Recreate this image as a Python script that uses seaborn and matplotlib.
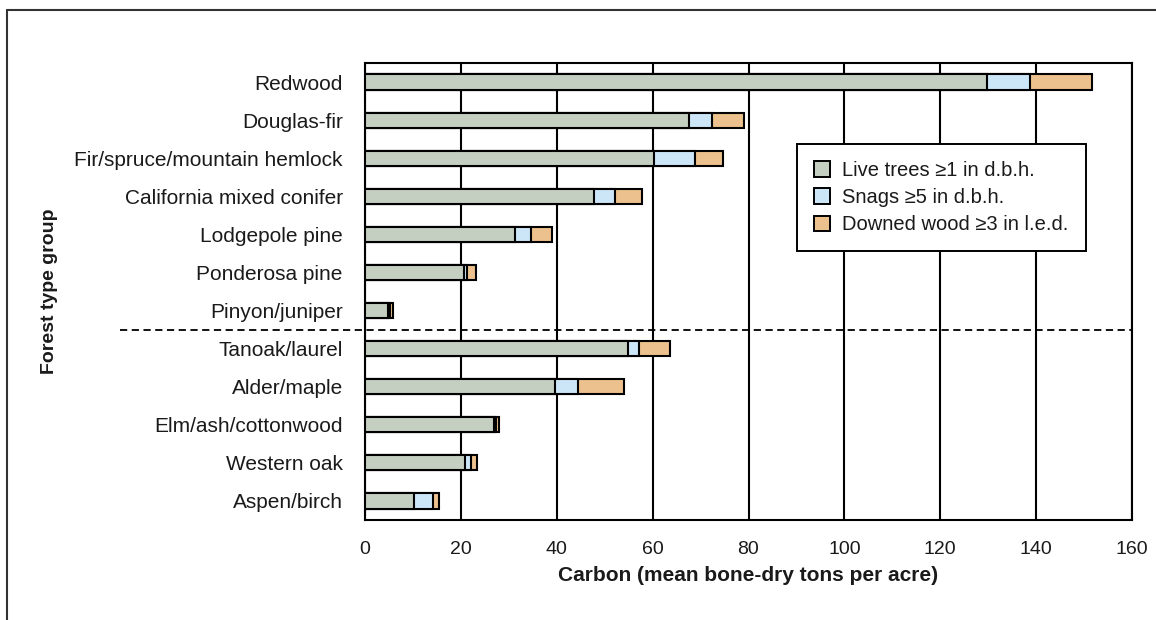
import matplotlib
matplotlib.use("Agg")
import matplotlib.pyplot as plt
import matplotlib.patches as mpatches
from matplotlib import font_manager
import seaborn as sns
import pandas as pd
import numpy as np

categories = ["Redwood", "Douglas-fir", "Fir/spruce/mountain hemlock",
              "California mixed conifer", "Lodgepole pine", "Ponderosa pine",
              "Pinyon/juniper", "Tanoak/laurel", "Alder/maple",
              "Elm/ash/cottonwood", "Western oak", "Aspen/birch"]
live_trees = [129.8, 67.5, 60.2, 47.7, 31.3, 20.7, 4.7, 54.9, 39.6, 26.9, 20.8, 10.2]
snags      = [8.9,   4.8,  8.7,  4.5,  3.4,  0.6,  0.5, 2.3,  4.8,  0.5,  1.4,  3.9]
downed     = [12.9,  6.7,  5.8,  5.6,  4.3,  1.9,  0.6, 6.4,  9.6,  0.6,  1.1,  1.4]
series_labels = ["Live trees \u22651 in d.b.h.", "Snags \u22655 in d.b.h.",
                 "Downed wood \u22653 in l.e.d."]
x_ticks = [0, 20, 40, 60, 80, 100, 120, 140, 160]

df = pd.DataFrame({"group": categories, "live": live_trees,
                   "snag": snags, "down": downed})
df["c1"] = df["live"]
df["c2"] = df["live"] + df["snag"]
df["c3"] = df["c2"] + df["down"]

sns.set_style("white")
avail = {f.name for f in font_manager.fontManager.ttflist}
base = "Liberation Sans" if "Liberation Sans" in avail else "DejaVu Sans"
plt.rcParams["font.family"] = [base, "DejaVu Sans"]
plt.rcParams["text.color"] = "#1a1a1a"
plt.rcParams["axes.labelcolor"] = "#1a1a1a"
plt.rcParams["xtick.labelcolor"] = "#1a1a1a"
plt.rcParams["ytick.labelcolor"] = "#1a1a1a"

col_live = "#c5cfc1"
col_snag = "#cce6f8"
col_down = "#ecc18d"

fig = plt.figure(figsize=(11.56, 6.2), dpi=100)
ax = fig.add_axes([365/1156, 1 - 520/620, (1132-365)/1156, (520-63)/620])

kw = dict(orient="h", edgecolor="black", linewidth=1.5, width=0.4,
          saturation=1, ax=ax, zorder=3)
sns.barplot(data=df, x="c3", y="group", color=col_down, **kw)
sns.barplot(data=df, x="c2", y="group", color=col_snag, **kw)
sns.barplot(data=df, x="c1", y="group", color=col_live, **kw)

ax.set_xlim(0, 160)
ax.set_ylim(11.5, -0.5)
ax.set_xticks(x_ticks)
ax.set_xticklabels([str(t) for t in x_ticks], fontsize=14)
ax.tick_params(axis="x", direction="out", length=5, width=1.4, pad=10, color="black")
ax.set_yticks(range(len(categories)))
ax.set_yticklabels(categories, fontsize=15)
ax.tick_params(axis="y", which="major", length=0, pad=16)
ax.set_yticks(np.arange(-0.5, len(categories), 1.0), minor=True)
ax.tick_params(axis="y", which="minor", direction="out", length=6, width=1.4, color="black")

ax.set_axisbelow(True)
ax.xaxis.grid(True, color="black", linewidth=1.5)
ax.yaxis.grid(False)
for s in ax.spines.values():
    s.set_visible(True)
    s.set_color("black")
    s.set_linewidth(1.5)

ax.set_xlabel("Carbon (mean bone-dry tons per acre)", fontsize=15,
              fontweight="bold", labelpad=6)
ax.set_ylabel("Forest type group", fontsize=14, fontweight="bold")
ax.yaxis.set_label_coords((58 - 365) / 767, 0.5)

# separator between conifer and hardwood groups
ax.plot([(120 - 365) / 767, 1.0], [6.5, 6.5], transform=ax.get_yaxis_transform(),
        color="black", linestyle=(0, (4, 2.5)), linewidth=1.3, clip_on=False, zorder=4)

handles = [mpatches.Patch(facecolor=c, edgecolor="black", linewidth=1.4, label=l)
           for c, l in zip([col_live, col_snag, col_down], series_labels)]
leg = ax.legend(handles=handles, loc="upper left",
                bbox_to_anchor=((797 - 365) / 767, 1 - (144 - 63) / 457),
                fontsize=14.5, frameon=True, fancybox=False, framealpha=1,
                edgecolor="black", handlelength=0.8, handleheight=0.8,
                handletextpad=0.6, borderpad=0.85, labelspacing=0.4,
                borderaxespad=0)
leg.get_frame().set_linewidth(1.4)
leg.set_zorder(5)

# figure frame (top and left edges visible)
fig.add_artist(plt.Line2D([7/1156, 1.0], [1 - 10/620, 1 - 10/620],
                          transform=fig.transFigure, color="#333333", linewidth=1.5))
fig.add_artist(plt.Line2D([7/1156, 7/1156], [0.0, 1 - 10/620],
                          transform=fig.transFigure, color="#333333", linewidth=1.5))

fig.savefig("out.png", dpi=100, facecolor="white")
